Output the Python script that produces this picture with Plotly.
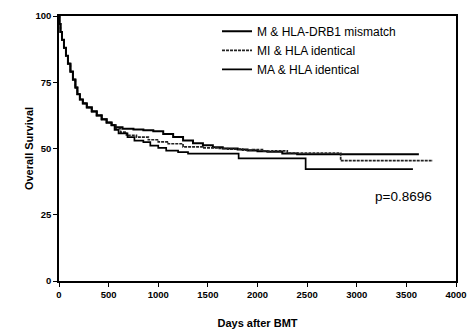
import plotly.graph_objects as go

# Kaplan-Meier step estimates (days after BMT, % surviving)
shared_days = [0, 5, 15, 30, 50, 70, 90, 115, 140, 165, 185, 210, 240, 280, 330, 380, 430, 480, 530]
shared_surv = [100, 97, 94, 91, 88, 85, 82, 79, 76, 73, 70.5, 68.5, 67, 65.5, 64, 62.5, 61, 59.8, 58.8]

mm_days = [570, 640, 750, 850, 950, 1050, 1150, 1250, 1350, 1450, 1550, 1650, 1800, 1900, 2000, 2100, 2250, 2400, 3626]
mm_surv = [58, 57.5, 57.2, 56.9, 56.5, 55.5, 54.3, 53, 52, 51.2, 50.5, 50, 49.6, 49.2, 49, 48.8, 48.1, 47.8, 47.8]

mi_days = [570, 620, 680, 780, 900, 1000, 1100, 1250, 1450, 1600, 1700, 1850, 1950, 2050, 2150, 2300, 2838, 3768]
mi_surv = [57.5, 56.2, 55, 54.3, 53.3, 52.5, 51.8, 50.6, 50.2, 50, 49.8, 49.4, 49.6, 49, 49.1, 48.3, 45.4, 45.4]

ma_days = [560, 600, 690, 760, 850, 920, 1000, 1080, 1200, 1300, 1810, 2485, 3566]
ma_surv = [57, 55.7, 54.3, 53, 52.4, 51.1, 50.2, 49.2, 48.6, 48.1, 46.3, 42.2, 42.2]

series = [
    ("M & HLA-DRB1 mismatch", mm_days, mm_surv, dict(color="#000000", width=2)),
    ("MI & HLA identical", mi_days, mi_surv, dict(color="#222222", width=1.7, dash="3px,1px")),
    ("MA & HLA identical", ma_days, ma_surv, dict(color="#000000", width=1.7)),
]

fig = go.Figure()
for name, d, s, ln in series:
    fig.add_trace(go.Scatter(
        x=shared_days + d, y=shared_surv + s, name=name, mode="lines",
        line=dict(shape="hv", **ln),
    ))

axis_font = dict(family="Liberation Sans, Arial", size=9.5, color="#000", weight="bold")
title_font = dict(family="Liberation Sans, Arial", size=11, color="#000")

fig.update_layout(
    width=469, height=331,
    margin=dict(l=59, r=13, t=16, b=50),
    paper_bgcolor="white", plot_bgcolor="white",
    font=dict(family="Liberation Sans, Arial", color="#000"),
    legend=dict(
        x=0.398, y=0.997, xanchor="left", yanchor="top",
        bgcolor="rgba(0,0,0,0)", borderwidth=0, itemwidth=30,
        font=dict(family="Liberation Sans, Arial", size=12, color="#000"),
        tracegroupgap=0,
    ),
    xaxis=dict(
        range=[0, 4000], tickvals=[0, 500, 1000, 1500, 2000, 2500, 3000, 3500, 4000],
        showgrid=False, zeroline=False, showline=True, linecolor="#000", linewidth=1.5,
        mirror=True, ticks="outside", ticklen=4, tickcolor="#000", tickwidth=1.2,
        tickfont=axis_font, automargin=False,
        title=dict(text="<b>Days after BMT</b>", font=title_font, standoff=20),
    ),
    yaxis=dict(
        range=[0, 100], tickvals=[0, 25, 50, 75, 100],
        showgrid=False, zeroline=False, showline=True, linecolor="#000", linewidth=1.5,
        mirror=True, ticks="outside", ticklen=4, tickcolor="#000", tickwidth=1.2,
        tickfont=axis_font, automargin=False,
        title=dict(text="<b>Overall Survival</b>", font=title_font, standoff=0),
    ),
    annotations=[dict(
        text="p=0.8696", xref="paper", yref="paper", x=0.945, y=0.32,
        xanchor="right", yanchor="middle", showarrow=False,
        font=dict(family="Liberation Sans, Arial", size=13.5, color="#000"),
    )],
)

fig.write_html("out.html")
